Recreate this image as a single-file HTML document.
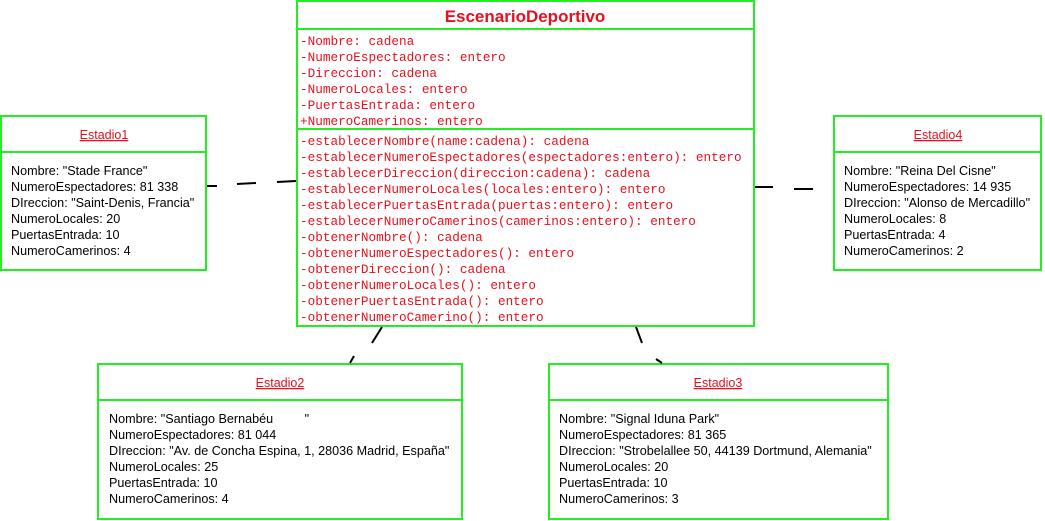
<!DOCTYPE html>
<html><head><meta charset="utf-8"><style>
body{margin:0;background:#fff;width:1045px;height:521px;overflow:hidden}
</style></head><body>
<svg width="1045" height="521" xmlns="http://www.w3.org/2000/svg" style="position:absolute;left:0;top:0">
<g fill="none" stroke="#22ee22" stroke-width="2">
<rect x="297" y="1" width="457" height="325"/>
<line x1="297" y1="29" x2="754" y2="29"/>
<line x1="297" y1="129" x2="754" y2="129"/>
<rect x="1" y="116" width="205" height="154"/>
<line x1="1" y1="152" x2="206" y2="152"/>
<rect x="834" y="116" width="207" height="154"/>
<line x1="834" y1="152" x2="1041" y2="152"/>
<rect x="98" y="364" width="364" height="155"/>
<line x1="98" y1="400" x2="462" y2="400"/>
<rect x="549" y="364" width="339" height="155"/>
<line x1="549" y1="400" x2="888" y2="400"/>
</g>
<g stroke="#000" stroke-width="2">
<line x1="207" y1="186" x2="217" y2="186"/>
<line x1="237" y1="184" x2="256" y2="183"/>
<line x1="277" y1="182" x2="296" y2="181"/>
<line x1="755" y1="187" x2="773" y2="187"/>
<line x1="794" y1="189" x2="813" y2="189"/>
<line x1="382" y1="327" x2="372" y2="343"/>
<line x1="354" y1="356" x2="350" y2="363"/>
<line x1="636" y1="327" x2="642" y2="343"/>
<line x1="656" y1="359" x2="662" y2="363"/>
</g>
<text x="525" y="22" text-anchor="middle" font-family="Liberation Sans, sans-serif" font-weight="bold" font-size="17" fill="#e8101e">EscenarioDeportivo</text>
<g font-family="Liberation Mono, monospace" font-size="12.7" fill="#e8101e">
<text x="300" y="45">-Nombre: cadena</text>
<text x="300" y="61">-NumeroEspectadores: entero</text>
<text x="300" y="77">-Direccion: cadena</text>
<text x="300" y="93">-NumeroLocales: entero</text>
<text x="300" y="109">-PuertasEntrada: entero</text>
<text x="300" y="125">+NumeroCamerinos: entero</text>
<text x="300" y="145">-establecerNombre(name:cadena): cadena</text>
<text x="300" y="161">-establecerNumeroEspectadores(espectadores:entero): entero</text>
<text x="300" y="177">-establecerDireccion(direccion:cadena): cadena</text>
<text x="300" y="193">-establecerNumeroLocales(locales:entero): entero</text>
<text x="300" y="209">-establecerPuertasEntrada(puertas:entero): entero</text>
<text x="300" y="225">-establecerNumeroCamerinos(camerinos:entero): entero</text>
<text x="300" y="241">-obtenerNombre(): cadena</text>
<text x="300" y="257">-obtenerNumeroEspectadores(): entero</text>
<text x="300" y="273">-obtenerDireccion(): cadena</text>
<text x="300" y="289">-obtenerNumeroLocales(): entero</text>
<text x="300" y="305">-obtenerPuertasEntrada(): entero</text>
<text x="300" y="321">-obtenerNumeroCamerino(): entero</text>
</g>
<g font-family="Liberation Sans, sans-serif" font-size="12.5" fill="#e8101e" text-anchor="middle" text-decoration="underline">
<text x="104" y="139">Estadio1</text>
<text x="938" y="139">Estadio4</text>
<text x="280" y="387">Estadio2</text>
<text x="718" y="387">Estadio3</text>
</g>
<g font-family="Liberation Sans, sans-serif" font-size="12.6" fill="#000">
<text x="11" y="175">Nombre: "Stade France"</text>
<text x="11" y="191">NumeroEspectadores: 81 338</text>
<text x="11" y="207">DIreccion: "Saint-Denis, Francia"</text>
<text x="11" y="223">NumeroLocales: 20</text>
<text x="11" y="239">PuertasEntrada: 10</text>
<text x="11" y="255">NumeroCamerinos: 4</text>
<text x="844" y="175">Nombre: "Reina Del Cisne"</text>
<text x="844" y="191">NumeroEspectadores: 14 935</text>
<text x="844" y="207">DIreccion: "Alonso de Mercadillo"</text>
<text x="844" y="223">NumeroLocales: 8</text>
<text x="844" y="239">PuertasEntrada: 4</text>
<text x="844" y="255">NumeroCamerinos: 2</text>
<text x="109" y="423" xml:space="preserve">Nombre: "Santiago Bernabéu         "</text>
<text x="109" y="439">NumeroEspectadores: 81 044</text>
<text x="109" y="455">DIreccion: "Av. de Concha Espina, 1, 28036 Madrid, España"</text>
<text x="109" y="471">NumeroLocales: 25</text>
<text x="109" y="487">PuertasEntrada: 10</text>
<text x="109" y="503">NumeroCamerinos: 4</text>
<text x="559" y="423">Nombre: "Signal Iduna Park"</text>
<text x="559" y="439">NumeroEspectadores: 81 365</text>
<text x="559" y="455">DIreccion: "Strobelallee 50, 44139 Dortmund, Alemania"</text>
<text x="559" y="471">NumeroLocales: 20</text>
<text x="559" y="487">PuertasEntrada: 10</text>
<text x="559" y="503">NumeroCamerinos: 3</text>
</g>
</svg>
</body></html>
